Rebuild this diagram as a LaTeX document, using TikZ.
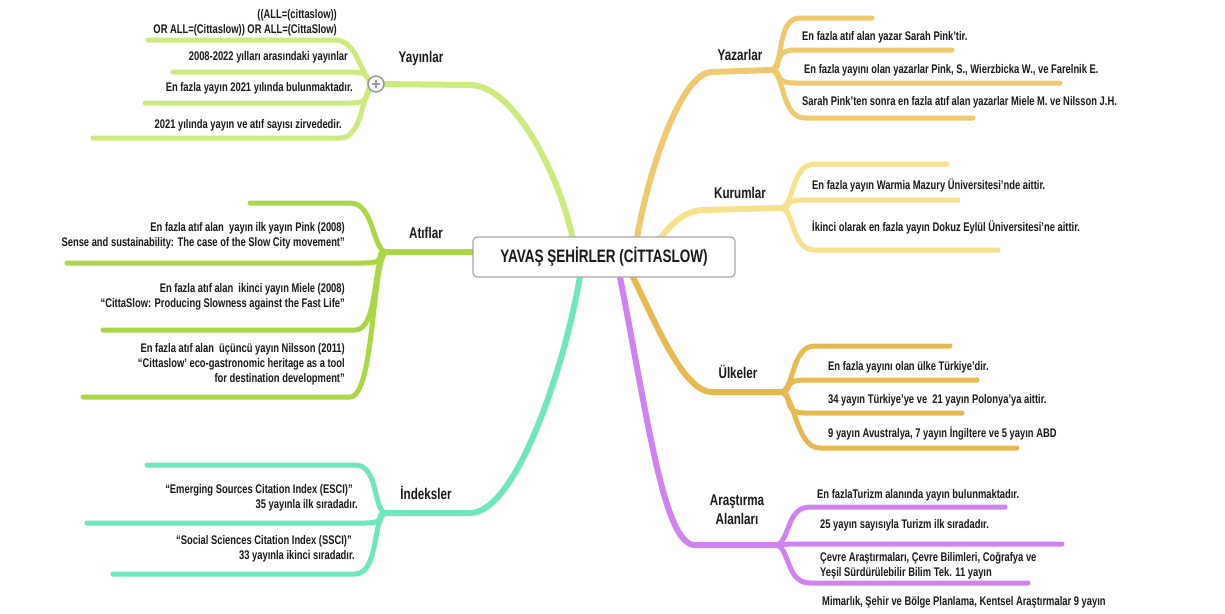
\documentclass[tikz,border=0pt]{standalone}
\usepackage{fontspec}
\setmainfont{Liberation Sans}[FakeStretch=0.75]
\definecolor{cYay}{RGB}{205,235,125}
\definecolor{cAtf}{RGB}{170,215,70}
\definecolor{cInd}{RGB}{110,230,190}
\definecolor{cYaz}{RGB}{240,200,110}
\definecolor{cKur}{RGB}{248,225,140}
\definecolor{cUlk}{RGB}{232,185,80}
\definecolor{cArs}{RGB}{210,130,240}
\definecolor{ink}{RGB}{25,25,25}
\tikzset{
  br/.style={line width=5pt, line cap=round},
  mainbr/.style={line width=6pt, line cap=round},
  txt/.style={font=\bfseries\fontsize{12.5}{15}\selectfont, inner sep=0pt, text=ink},
  ltxt/.style={txt, anchor=east, align=right},
  rtxt/.style={txt, anchor=west, align=left},
  lbl/.style={font=\bfseries\fontsize{15.5}{19}\selectfont, inner sep=0pt, text=ink, align=center},
}
\newcommand{\lsub}[5]{\draw[br,#1] (#2) .. controls +(-15,0) and +(25,0) .. (#3,#4) -- (#5,#4);}
\newcommand{\rsub}[5]{\draw[br,#1] (#2) .. controls +(15,0) and +(-25,0) .. (#3,#4) -- (#5,#4);}
\begin{document}
\begin{tikzpicture}[x=1pt,y=-1pt]
\useasboundingbox (0,0) rectangle (1225,613);
\fill[white] (0,0) rectangle (1225,613);

% hubs
\coordinate (yh) at (376,84);
\coordinate (ah) at (387,252);
\coordinate (ih) at (387,513);
\coordinate (zh) at (770,70);
\coordinate (kh) at (780,208);
\coordinate (uh) at (780,392);
\coordinate (rh) at (775,545);

% main branches
\coordinate (ya) at (470,85);   \coordinate (yb) at (575,250);
\draw[mainbr,cYay] (yh) -- (ya) .. controls +(45,0) and +(-12,-70) .. (yb);
\coordinate (aa) at (490,252);
\draw[mainbr,cAtf] (ah) -- (aa);
\coordinate (ia) at (470,513);  \coordinate (ib) at (582,262);
\draw[mainbr,cInd] (ih) -- (ia) .. controls +(50,0) and +(-10,80) .. (ib);
\coordinate (za) at (712,72);   \coordinate (zb) at (635,250);
\draw[mainbr,cYaz] (zh) -- (za) .. controls +(-32,0) and +(10,-70) .. (zb);
\coordinate (ka) at (705,210);  \coordinate (kb) at (650,252);
\draw[mainbr,cKur] (kh) -- (ka) .. controls +(-28,0) and +(12,-15) .. (kb);
\coordinate (ua) at (712,392);  \coordinate (ub) at (625,262);
\draw[mainbr,cUlk] (uh) -- (ua) .. controls +(-32,0) and +(25,45) .. (ub);
\coordinate (ra) at (695,545);  \coordinate (rb) at (617,262);
\draw[mainbr,cArs] (rh) -- (ra) .. controls +(-32,0) and +(30,150) .. (rb);

% Yayinlar sub-branches
\lsub{cYay}{yh}{335}{40}{148}
\lsub{cYay}{yh}{352}{72}{173}
\lsub{cYay}{yh}{352}{103}{145}
\lsub{cYay}{yh}{340}{138}{93}
% Atiflar
\lsub{cAtf}{ah}{350}{203}{250}
\lsub{cAtf}{ah}{365}{263}{67}
\lsub{cAtf}{ah}{355}{330}{103}
\lsub{cAtf}{ah}{350}{397}{83}
% Indeksler
\lsub{cInd}{ih}{355}{465}{147}
\lsub{cInd}{ih}{365}{523}{87}
\lsub{cInd}{ih}{355}{574}{113}
% Yazarlar
\rsub{cYaz}{zh}{800}{18}{872}
\rsub{cYaz}{zh}{795}{50}{952}
\rsub{cYaz}{zh}{795}{83}{1060}
\rsub{cYaz}{zh}{805}{118}{973}
% Kurumlar
\rsub{cKur}{kh}{815}{164}{947}
\rsub{cKur}{kh}{805}{200}{958}
\rsub{cKur}{kh}{815}{250}{998}
% Ulkeler
\rsub{cUlk}{uh}{815}{346}{950}
\rsub{cUlk}{uh}{805}{380}{977}
\rsub{cUlk}{uh}{805}{413}{962}
\rsub{cUlk}{uh}{820}{448}{1017}
% Arastirma
\rsub{cArs}{rh}{810}{507}{1005}
\rsub{cArs}{rh}{800}{544}{1062}
\rsub{cArs}{rh}{810}{583}{1028}

% collapse marker
\node[circle, draw=gray!80, fill=gray!8, line width=1.5pt, minimum size=16pt, inner sep=0pt,
      path picture={\draw[gray!80, line width=1.3pt]
        ([xshift=-4pt]path picture bounding box.center) -- ([xshift=4pt]path picture bounding box.center)
        ([yshift=-4pt]path picture bounding box.center) -- ([yshift=4pt]path picture bounding box.center);}]
      (plus) at (yh) {};

% central node
\node[draw=gray!70, fill=white, rounded corners=4pt, line width=1.2pt, minimum width=262pt,
      minimum height=40pt, font=\bfseries\fontsize{18}{20}\selectfont, text=ink] (c) at (604,257)
      {YAVAŞ ŞEHİRLER (CİTTASLOW)};

% labels
\node[lbl] (lYay) at (421,58) {Yayınlar};
\node[lbl] (lAtf) at (426,233) {Atıflar};
\node[lbl] (lInd) at (426,493) {İndeksler};
\node[lbl] (lYaz) at (740,55) {Yazarlar};
\node[lbl] (lKur) at (740,193) {Kurumlar};
\node[lbl] (lUlk) at (738,372) {Ülkeler};
\node[lbl] (lArs) at (737,510) {Araştırma\\Alanları};

% Yayinlar texts
\node[ltxt] (y1) at (337,23) {((ALL=(cittaslow))\\OR ALL=(Cittaslow)) OR ALL=(CittaSlow)};
\node[ltxt] (y2) at (348,57) {2008-2022 yılları arasındaki yayınlar};
\node[ltxt] (y3) at (353,88) {En fazla yayın 2021 yılında bulunmaktadır.};
\node[ltxt] (y4) at (342,125) {2021 yılında yayın ve atıf sayısı zirvededir.};
% Atiflar texts
\node[ltxt] (a1) at (345,236) {En fazla atıf alan\ \ yayın ilk yayın Pink (2008)\\Sense and sustainability: The case of the Slow City movement”};
\node[ltxt] (a2) at (345,297) {En fazla atıf alan\ \ ikinci yayın Miele (2008)\\“CittaSlow: Producing Slowness against the Fast Life”};
\node[ltxt] (a3) at (345,364) {En fazla atıf alan\ \ üçüncü yayın Nilsson (2011)\\“Cittaslow' eco-gastronomic heritage as a tool\hspace*{5pt}\\for destination development”};
% Indeksler texts
\node[ltxt] (i1) at (358,498) {“Emerging Sources Citation Index (ESCI)”\hspace*{5pt}\\35 yayınla ilk sıradadır.};
\node[ltxt] (i2) at (355,549) {“Social Sciences Citation Index (SSCI)”\hspace*{3pt}\\33 yayınla ikinci sıradadır.};
% Yazarlar texts
\node[rtxt] (z1) at (802,37) {En fazla atıf alan yazar Sarah Pink’tir.};
\node[rtxt] (z2) at (804,70) {En fazla yayını olan yazarlar Pink, S., Wierzbicka W., ve Farelnik E.};
\node[rtxt] (z3) at (802,102) {Sarah Pink’ten sonra en fazla atıf alan yazarlar Miele M. ve Nilsson J.H.};
% Kurumlar texts
\node[rtxt] (k1) at (812,185) {En fazla yayın Warmia Mazury Üniversitesi’nde aittir.};
\node[rtxt] (k2) at (812,227) {İkinci olarak en fazla yayın Dokuz Eylül Üniversitesi’ne aittir.};
% Ulkeler texts
\node[rtxt] (u1) at (828,367) {En fazla yayını olan ülke Türkiye’dir.};
\node[rtxt] (u2) at (828,400) {34 yayın Türkiye’ye ve\ \ 21 yayın Polonya’ya aittir.};
\node[rtxt] (u3) at (828,433) {9 yayın Avustralya, 7 yayın İngiltere ve 5 yayın ABD};
% Arastirma texts
\node[rtxt] (r1) at (817,495) {En fazlaTurizm alanında yayın bulunmaktadır.};
\node[rtxt] (r2) at (820,525) {25 yayın sayısıyla Turizm ilk sıradadır.};
\node[rtxt] (r3) at (820,566) {Çevre Araştırmaları, Çevre Bilimleri, Coğrafya ve\\Yeşil Sürdürülebilir Bilim Tek. 11 yayın};
\node[rtxt] (r4) at (822,602) {Mimarlık, Şehir ve Bölge Planlama, Kentsel Araştırmalar 9 yayın};
\end{tikzpicture}
\end{document}
